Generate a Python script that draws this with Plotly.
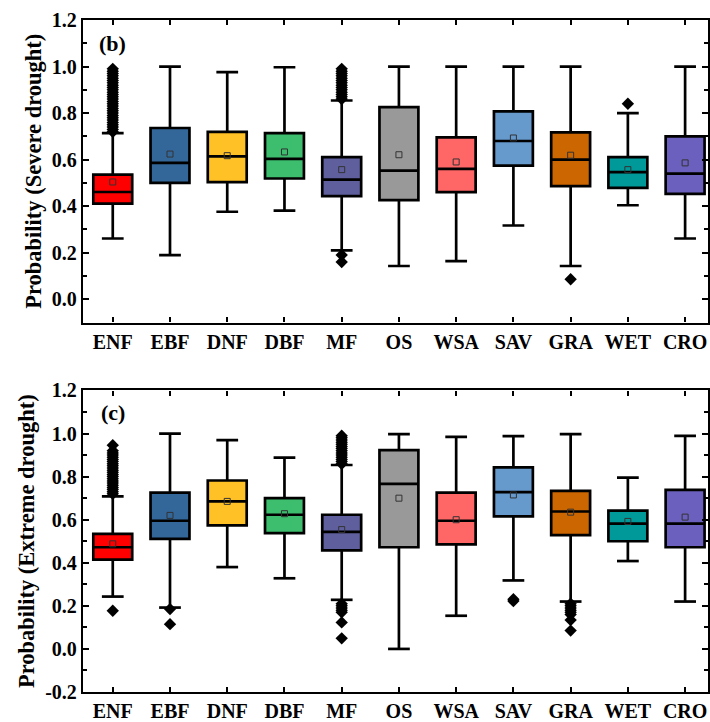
import plotly.graph_objects as go

# ---- data -------------------------------------------------------------
categories = ["ENF", "EBF", "DNF", "DBF", "MF", "OS", "WSA", "SAV", "GRA", "WET", "CRO"]
colors = ["#FF0000", "#336699", "#FFC125", "#3DBE6E", "#5F5F9E", "#999999",
          "#FF6666", "#6699CC", "#CC6600", "#009999", "#6B60BD"]

# (b) severe drought
sev_q1 = [0.411, 0.500, 0.503, 0.519, 0.443, 0.426, 0.460, 0.574, 0.486, 0.479, 0.453]
sev_med = [0.461, 0.586, 0.614, 0.603, 0.514, 0.553, 0.560, 0.680, 0.600, 0.546, 0.540]
sev_q3 = [0.536, 0.736, 0.719, 0.714, 0.611, 0.826, 0.696, 0.807, 0.717, 0.611, 0.700]
sev_lo = [0.261, 0.190, 0.376, 0.381, 0.210, 0.143, 0.164, 0.317, 0.143, 0.404, 0.261]
sev_hi = [0.714, 1.000, 0.976, 0.997, 0.854, 1.000, 1.000, 1.000, 1.000, 0.800, 1.000]
sev_mean = [0.504, 0.624, 0.617, 0.633, 0.557, 0.621, 0.590, 0.693, 0.619, 0.557, 0.586]
sev_out = [
    [0.72, 0.73, 0.74, 0.75, 0.76, 0.77, 0.78, 0.79, 0.80, 0.81, 0.82, 0.83, 0.84, 0.85,
     0.86, 0.87, 0.88, 0.89, 0.90, 0.91, 0.92, 0.93, 0.94, 0.95, 0.96, 0.97, 0.98, 0.99],
    [], [], [],
    [0.86, 0.87, 0.88, 0.89, 0.90, 0.91, 0.92, 0.93, 0.94, 0.95, 0.96, 0.97, 0.98, 0.99,
     0.19, 0.16],
    [], [], [],
    [0.086],
    [0.84],
    [],
]

# (c) extreme drought
ext_q1 = [0.415, 0.511, 0.574, 0.538, 0.458, 0.472, 0.485, 0.615, 0.528, 0.500, 0.472]
ext_med = [0.472, 0.595, 0.685, 0.623, 0.543, 0.766, 0.595, 0.728, 0.638, 0.582, 0.582]
ext_q3 = [0.534, 0.726, 0.782, 0.700, 0.623, 0.923, 0.726, 0.843, 0.734, 0.642, 0.738]
ext_lo = [0.243, 0.192, 0.380, 0.328, 0.228, 0.000, 0.154, 0.318, 0.220, 0.408, 0.220]
ext_hi = [0.708, 1.000, 0.969, 0.888, 0.854, 0.997, 0.985, 0.988, 0.997, 0.795, 0.989]
ext_mean = [0.488, 0.620, 0.685, 0.628, 0.554, 0.700, 0.600, 0.715, 0.635, 0.592, 0.612]
ext_out = [
    [0.72, 0.73, 0.74, 0.75, 0.76, 0.77, 0.78, 0.79, 0.80, 0.81, 0.82, 0.83, 0.84, 0.85,
     0.86, 0.87, 0.88, 0.89, 0.90, 0.91, 0.92, 0.946, 0.177],
    [0.185, 0.115],
    [], [],
    [0.86, 0.87, 0.88, 0.89, 0.90, 0.91, 0.92, 0.93, 0.94, 0.95, 0.96, 0.97, 0.98, 0.99,
     0.21, 0.20, 0.19, 0.18, 0.17, 0.123, 0.049],
    [], [],
    [0.231, 0.222],
    [0.21, 0.20, 0.19, 0.18, 0.17, 0.16, 0.134, 0.085],
    [], [],
]

panels = [
    dict(label="(b)", title="Probability (Severe drought)", q1=sev_q1, med=sev_med, q3=sev_q3,
         lo=sev_lo, hi=sev_hi, mean=sev_mean, out=sev_out, yrange=[-0.1, 1.2],
         ticks=[0.0, 0.2, 0.4, 0.6, 0.8, 1.0, 1.2]),
    dict(label="(c)", title="Probability (Extreme drought)", q1=ext_q1, med=ext_med, q3=ext_q3,
         lo=ext_lo, hi=ext_hi, mean=ext_mean, out=ext_out, yrange=[-0.2, 1.2],
         ticks=[-0.2, 0.0, 0.2, 0.4, 0.6, 0.8, 1.0, 1.2]),
]

# ---- styling ----------------------------------------------------------
FONT = "Liberation Serif"
BOX_W = 0.68
CAP_HALF = 0.19
domains = [[0.5498, 1.0], [0.0, 0.4487]]

fig = go.Figure()
positions = list(range(len(categories)))

for p_i, p in enumerate(panels):
    xa = "x" if p_i == 0 else "x2"
    ya = "y" if p_i == 0 else "y2"

    for i, cat in enumerate(categories):
        fig.add_trace(go.Box(
            x=[i], q1=[p["q1"][i]], median=[p["med"][i]], q3=[p["q3"][i]],
            lowerfence=[p["lo"][i]], upperfence=[p["hi"][i]],
            width=BOX_W, fillcolor=colors[i], line=dict(color="black", width=2.7),
            boxpoints=False, whiskerwidth=0, name=cat, showlegend=False,
            xaxis=xa, yaxis=ya, hoverinfo="skip",
        ))

    # whisker caps
    cx, cy = [], []
    for i in positions:
        for v in (p["lo"][i], p["hi"][i]):
            cx += [i - CAP_HALF, i + CAP_HALF, None]
            cy += [v, v, None]
    fig.add_trace(go.Scatter(x=cx, y=cy, mode="lines", line=dict(color="black", width=2.7),
                             showlegend=False, xaxis=xa, yaxis=ya, hoverinfo="skip"))

    # outliers
    ox, oy = [], []
    for i in positions:
        for v in p["out"][i]:
            ox.append(i)
            oy.append(v)
    fig.add_trace(go.Scatter(x=ox, y=oy, mode="markers",
                             marker=dict(symbol="diamond", size=9.5, color="black"),
                             showlegend=False, xaxis=xa, yaxis=ya, hoverinfo="skip"))

    # means
    fig.add_trace(go.Scatter(x=positions, y=p["mean"], mode="markers",
                             marker=dict(symbol="square-open", size=6,
                                         color="#333333", line=dict(width=1)),
                             showlegend=False, xaxis=xa, yaxis=ya, hoverinfo="skip"))

    fig.add_annotation(x=0, y=1.1, xref=xa, yref=ya, text=p["label"], showarrow=False,
                       font=dict(family=FONT, size=22, color="black", weight="bold"))

    axis_common = dict(showline=True, linecolor="black", linewidth=2.4, mirror="ticks",
                       ticks="inside", tickcolor="black", tickwidth=2, showgrid=False,
                       zeroline=False,
                       tickfont=dict(family=FONT, size=20, color="black", weight="bold"))
    xaxis = dict(axis_common, range=[-0.52, 10.40], tickvals=positions, ticktext=categories,
                 ticklen=5, anchor=ya, domain=[0, 1])
    yaxis = dict(axis_common, range=p["yrange"], tickvals=p["ticks"],
                 ticktext=[f"{t:.1f}" for t in p["ticks"]], ticklen=6,
                 minor=dict(ticks="inside", dtick=0.1, tick0=0, ticklen=4,
                            tickwidth=2, tickcolor="black"),
                 anchor=xa, domain=domains[p_i],
                 title=dict(text=p["title"], standoff=4,
                            font=dict(family=FONT, size=22.5, color="black", weight="bold")))
    if p_i == 0:
        fig.update_layout(xaxis=xaxis, yaxis=yaxis)
    else:
        fig.update_layout(xaxis2=xaxis, yaxis2=yaxis)

fig.update_layout(
    width=710, height=722,
    margin=dict(l=83, r=0, t=20, b=29),
    paper_bgcolor="white", plot_bgcolor="white",
    showlegend=False,
)

fig.write_html("out.html")
